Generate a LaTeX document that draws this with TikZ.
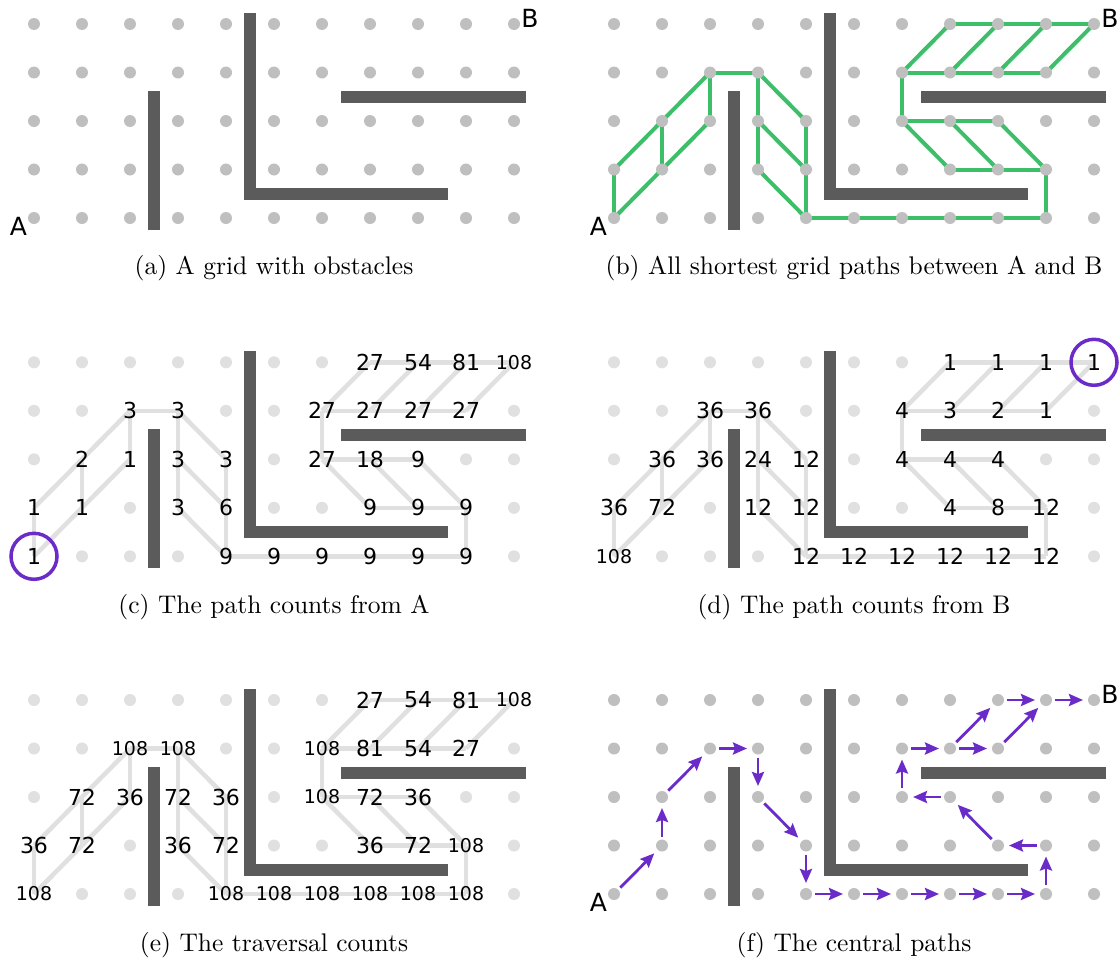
\documentclass[tikz,border=0pt]{standalone}
\usepackage{fontspec}
\newfontfamily\labelfont{DejaVu Sans}
\usetikzlibrary{arrows.meta}
\definecolor{dotgray}{HTML}{BFBFBF}
\definecolor{lightdot}{HTML}{E0E0E0}
\definecolor{edgegray}{HTML}{E0E0E0}
\definecolor{wallc}{HTML}{5B5B5B}
\definecolor{greenc}{HTML}{3DBF6A}
\definecolor{purp}{HTML}{6A2BC9}
\makeatletter
\def\pathset{,0-4,0-3,1-3,1-2,2-2,2-1,3-1,3-2,3-3,4-2,4-3,4-4,5-4,6-4,7-4,8-4,9-4,9-3,8-3,7-3,8-2,7-2,6-2,6-1,7-1,8-1,9-1,7-0,8-0,9-0,10-0,}
\newcommand\checkpath[1]{\edef\@tempa{\noexpand\in@{,#1,}{\pathset}}\@tempa}
\newcommand\unlesspath[2]{\checkpath{#1}\ifin@\else#2\fi}
\makeatother
\newcommand\numtxt[1]{\ifnum#1>99 \fontsize{19}{19}\selectfont\fi#1}
\def\edgelist{0-4/0-3,0-4/1-3,0-3/1-2,1-3/1-2,1-3/2-2,1-2/2-1,2-2/2-1,2-1/3-1,3-1/3-2,3-1/4-2,3-2/3-3,3-2/4-3,4-2/4-3,3-3/4-4,4-3/4-4,4-4/5-4,5-4/6-4,6-4/7-4,7-4/8-4,8-4/9-4,9-4/9-3,9-3/8-3,8-3/7-3,9-3/8-2,8-3/7-2,7-3/6-2,6-2/7-2,7-2/8-2,6-2/6-1,6-1/7-1,7-1/8-1,8-1/9-1,6-1/7-0,7-1/8-0,8-1/9-0,9-1/10-0,7-0/8-0,8-0/9-0,9-0/10-0}
\newcommand\mkgrid[1]{\foreach \i in {0,...,10}{\foreach \j in {0,...,4}{\coordinate (#1\i-\j) at ({34+48*\i},{24+48.5*\j});}}}
\newcommand\alldots[2]{\foreach \i in {0,...,10}{\foreach \j in {0,...,4}{\node[#2] (#1\i-\j d) at (#1\i-\j) {};}}}
\newcommand\freedots[1]{\foreach \i in {0,...,10}{\foreach \j in {0,...,4}{\unlesspath{\i-\j}{\node[ldot] (#1\i-\j d) at (#1\i-\j) {};}}}}
\newcommand\edges[2]{\foreach \u/\v in \edgelist {\draw[#2] (#1\u) -- (#1\v);}}
\newcommand\numbers[2]{\foreach \p/\n in {#2}{\node[numtxtstyle] (#1\p n) at (#1\p) {\numtxt{\n}};}}
\newcommand\walls{%
  \fill[wallc] (148.3,91) rectangle (159.7,229.5);
  \fill[wallc] (244.3,13) rectangle (255.7,199.5);
  \fill[wallc] (244.3,188) rectangle (448,199.5);
  \fill[wallc] (340.5,91) rectangle (526,102.5);}
\tikzset{
  gdot/.style={circle,fill=dotgray,inner sep=0pt,minimum size=12pt},
  ldot/.style={circle,fill=lightdot,inner sep=0pt,minimum size=12pt},
  gedge/.style={draw=greenc,line width=4pt},
  ledge/.style={draw=edgegray,line width=4.5pt},
  numtxtstyle/.style={font=\labelfont\fontsize{22}{22}\selectfont,inner sep=0pt},
  endlabel/.style={font=\labelfont\fontsize{25}{25}\selectfont,inner sep=0pt},
  captext/.style={scale=2.55,inner sep=0pt},
  ringmark/.style={circle,draw=purp,line width=3.5pt,minimum size=46pt,inner sep=0pt},
  patharrow/.style={draw=purp,line width=2.8pt,-{Stealth[length=14pt,width=12pt,inset=2pt]},shorten <=9pt,shorten >=11pt}
}
\begin{document}
\begin{tikzpicture}[x=1pt,y=-1pt]
\useasboundingbox (0,0) rectangle (1119,964);
\fill[white] (0,0) rectangle (1119,964);
% (a)
\begin{scope}
  \mkgrid{a}
  \walls
  \alldots{a}{gdot}
  \node[endlabel] (aA) at ([shift={(-15.5,8)}]a0-4) {A};
  \node[endlabel] (aB) at ([shift={(16,-6)}]a10-0) {B};
\end{scope}
\node[captext] (capa) at (274,268) {(a) A grid with obstacles};
% (b)
\begin{scope}[shift={(580,0)}]
  \mkgrid{b}
  \walls
  \edges{b}{gedge}
  \alldots{b}{gdot}
  \node[endlabel] (bA) at ([shift={(-15.5,8)}]b0-4) {A};
  \node[endlabel] (bB) at ([shift={(16,-6)}]b10-0) {B};
\end{scope}
\node[captext] (capb) at (854,268) {(b) All shortest grid paths between A and B};
% (c)
\begin{scope}[shift={(0,338.3)}]
  \mkgrid{c}
  \walls
  \edges{c}{ledge}
  \freedots{c}
  \numbers{c}{7-0/27,8-0/54,9-0/81,10-0/108,2-1/3,3-1/3,6-1/27,7-1/27,8-1/27,9-1/27,1-2/2,2-2/1,3-2/3,4-2/3,6-2/27,7-2/18,8-2/9,0-3/1,1-3/1,3-3/3,4-3/6,7-3/9,8-3/9,9-3/9,0-4/1,4-4/9,5-4/9,6-4/9,7-4/9,8-4/9,9-4/9}
  \node[ringmark] (cring) at (c0-4) {};
\end{scope}
\node[captext] (capc) at (274,607) {(c) The path counts from A};
% (d)
\begin{scope}[shift={(580,338.3)}]
  \mkgrid{d}
  \walls
  \edges{d}{ledge}
  \freedots{d}
  \numbers{d}{7-0/1,8-0/1,9-0/1,10-0/1,2-1/36,3-1/36,6-1/4,7-1/3,8-1/2,9-1/1,1-2/36,2-2/36,3-2/24,4-2/12,6-2/4,7-2/4,8-2/4,0-3/36,1-3/72,3-3/12,4-3/12,7-3/4,8-3/8,9-3/12,0-4/108,4-4/12,5-4/12,6-4/12,7-4/12,8-4/12,9-4/12}
  \node[ringmark] (dring) at (d10-0) {};
\end{scope}
\node[captext] (capd) at (854,607) {(d) The path counts from B};
% (e)
\begin{scope}[shift={(0,676)}]
  \mkgrid{e}
  \walls
  \edges{e}{ledge}
  \freedots{e}
  \numbers{e}{7-0/27,8-0/54,9-0/81,10-0/108,2-1/108,3-1/108,6-1/108,7-1/81,8-1/54,9-1/27,1-2/72,2-2/36,3-2/72,4-2/36,6-2/108,7-2/72,8-2/36,0-3/36,1-3/72,3-3/36,4-3/72,7-3/36,8-3/72,9-3/108,0-4/108,4-4/108,5-4/108,6-4/108,7-4/108,8-4/108,9-4/108}
\end{scope}
\node[captext] (cape) at (274,945) {(e) The traversal counts};
% (f)
\begin{scope}[shift={(580,676)}]
  \mkgrid{f}
  \walls
  \alldots{f}{gdot}
  \foreach \u/\v in {0-4/1-3,1-3/1-2,1-2/2-1,2-1/3-1,3-1/3-2,3-2/4-3,4-3/4-4,4-4/5-4,5-4/6-4,6-4/7-4,7-4/8-4,8-4/9-4,9-4/9-3,9-3/8-3,8-3/7-2,7-2/6-2,6-2/6-1,6-1/7-1,7-1/8-1,7-1/8-0,8-1/9-0,8-0/9-0,9-0/10-0}
    {\draw[patharrow] (f\u) -- (f\v);}
  \node[endlabel] (fA) at ([shift={(-15.5,8)}]f0-4) {A};
  \node[endlabel] (fB) at ([shift={(16,-6)}]f10-0) {B};
\end{scope}
\node[captext] (capf) at (854,945) {(f) The central paths};
\end{tikzpicture}
\end{document}
